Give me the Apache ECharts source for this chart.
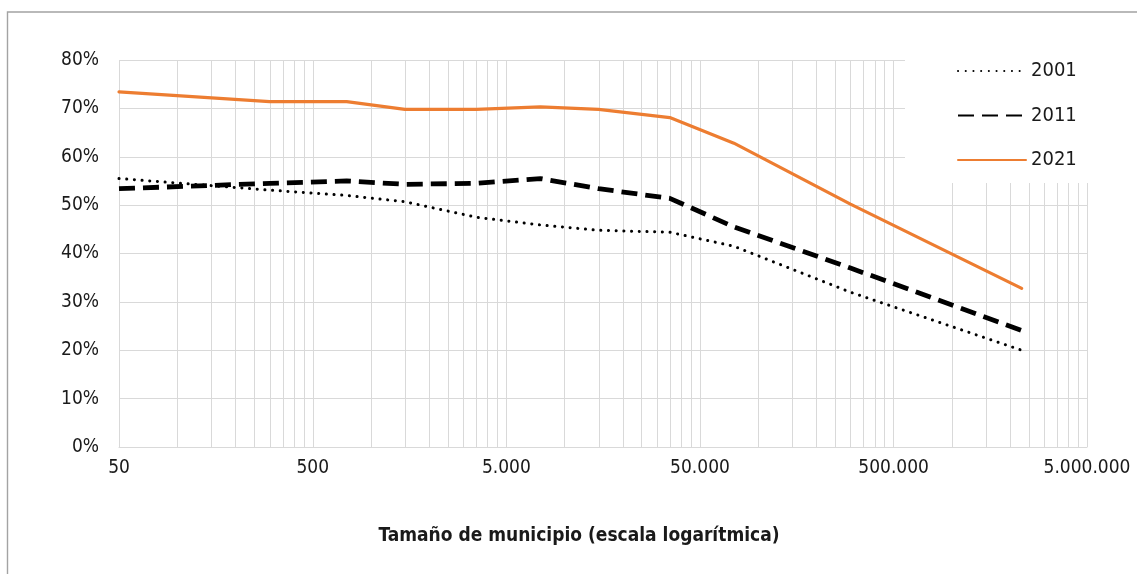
<!DOCTYPE html>
<html>
<head>
<meta charset="utf-8">
<script src="https://cdn.jsdelivr.net/npm/echarts@6/dist/echarts.min.js"></script>
<style>
  html, body { margin: 0; padding: 0; background: #fff; }
  #chart { width: 1137px; height: 574px; }
</style>
</head>
<body>
<div id="chart"></div>
<script>
// Tamaño de municipio (habitantes), eje logarítmico
const sizes = [50, 300, 750, 1500, 3500, 7500, 15000, 35000, 75000, 300000, 2300000];
// Porcentajes por año
const serie2001 = [55.5, 53.1, 52.0, 50.7, 47.5, 45.9, 44.8, 44.4, 41.5, 32.0, 20.0];
const serie2011 = [53.4, 54.5, 55.0, 54.3, 54.5, 55.5, 53.4, 51.4, 45.5, 37.0, 24.1];
const serie2021 = [73.4, 71.4, 71.4, 69.8, 69.8, 70.3, 69.8, 68.1, 62.8, 50.2, 32.8];
const years = ['2001', '2011', '2021'];
const xTitle = 'Tamaño de municipio (escala logarítmica)';

const FONT = "'Liberation Sans Narrow', 'DejaVu Sans Condensed', 'Roboto', sans-serif";
const GRID = '#d9d9d9';
const TEXT = '#1a1a1a';

function pairs(vals) { return sizes.map((s, i) => [s, vals[i]]); }
// Etiquetas del eje: redondeo a 1 cifra significativa y separador de miles "."
function fmtThousands(v) {
  const p = Math.pow(10, Math.floor(Math.log10(v)));
  const n = Math.round(v / p) * p;
  return String(n).replace(/\B(?=(\d{3})+(?!\d))/g, '.');
}

const chart = echarts.init(document.getElementById('chart'), null, { renderer: 'canvas' });
chart.setOption({
  backgroundColor: '#fff',
  animation: false,
  textStyle: { fontFamily: FONT },
  graphic: [{
    type: 'rect',
    shape: { x: 7.5, y: 12, width: 1200, height: 700 },
    style: { fill: 'none', stroke: '#a3a3a3', lineWidth: 1.4 },
    silent: true,
    z: 0
  }],
  grid: { left: 119, right: 50, top: 60, bottom: 127, containLabel: false },
  legend: {
    orient: 'vertical',
    left: 905,
    top: 48,
    padding: [12, 45, 12, 52],
    backgroundColor: '#fff',
    itemWidth: 68,
    itemHeight: 22,
    itemGap: 22.5,
    data: years,
    itemStyle: { color: 'rgba(0,0,0,0)', borderColor: 'rgba(0,0,0,0)', borderWidth: 0 },
    textStyle: { fontFamily: FONT, fontSize: 20, color: TEXT, lineHeight: 22 }
  },
  xAxis: {
    type: 'log',
    logBase: 10,
    min: 50,
    max: 5000000,
    interval: 1,
    name: xTitle,
    nameLocation: 'middle',
    nameGap: 80,
    nameTextStyle: { fontFamily: FONT, fontSize: 19, fontWeight: 'bold', color: TEXT, padding: [0, 48, 0, 0] },
    axisLine: { show: true, lineStyle: { color: GRID, width: 1 } },
    axisTick: { show: false },
    minorTick: { show: false, splitNumber: 9 },
    axisLabel: {
      fontFamily: FONT, fontSize: 19, color: TEXT, margin: 12,
      formatter: v => fmtThousands(v)
    },
    splitLine: { show: true, lineStyle: { color: GRID, width: 1 } },
    minorSplitLine: { show: true, lineStyle: { color: GRID, width: 1 } }
  },
  yAxis: {
    type: 'value',
    min: 0,
    max: 80,
    interval: 10,
    axisLine: { show: false },
    axisTick: { show: false },
    axisLabel: { fontFamily: FONT, fontSize: 19, color: TEXT, margin: 20, formatter: '{value}%' },
    splitLine: { show: true, lineStyle: { color: GRID, width: 1 } }
  },
  series: [
    {
      name: years[0], type: 'line', data: pairs(serie2001),
      symbol: 'none', z: 3,
      lineStyle: { color: '#000', width: 3, type: [0.1, 7.6], cap: 'round' },
      itemStyle: { color: '#000' }
    },
    {
      name: years[1], type: 'line', data: pairs(serie2011),
      symbol: 'none', z: 4,
      lineStyle: { color: '#000', width: 4.8, type: [16, 8], cap: 'butt' },
      itemStyle: { color: '#000' }
    },
    {
      name: years[2], type: 'line', data: pairs(serie2021),
      symbol: 'none', z: 5,
      lineStyle: { color: '#ED7D31', width: 3.2, cap: 'round' },
      itemStyle: { color: '#ED7D31' }
    }
  ]
});
</script>
</body>
</html>
